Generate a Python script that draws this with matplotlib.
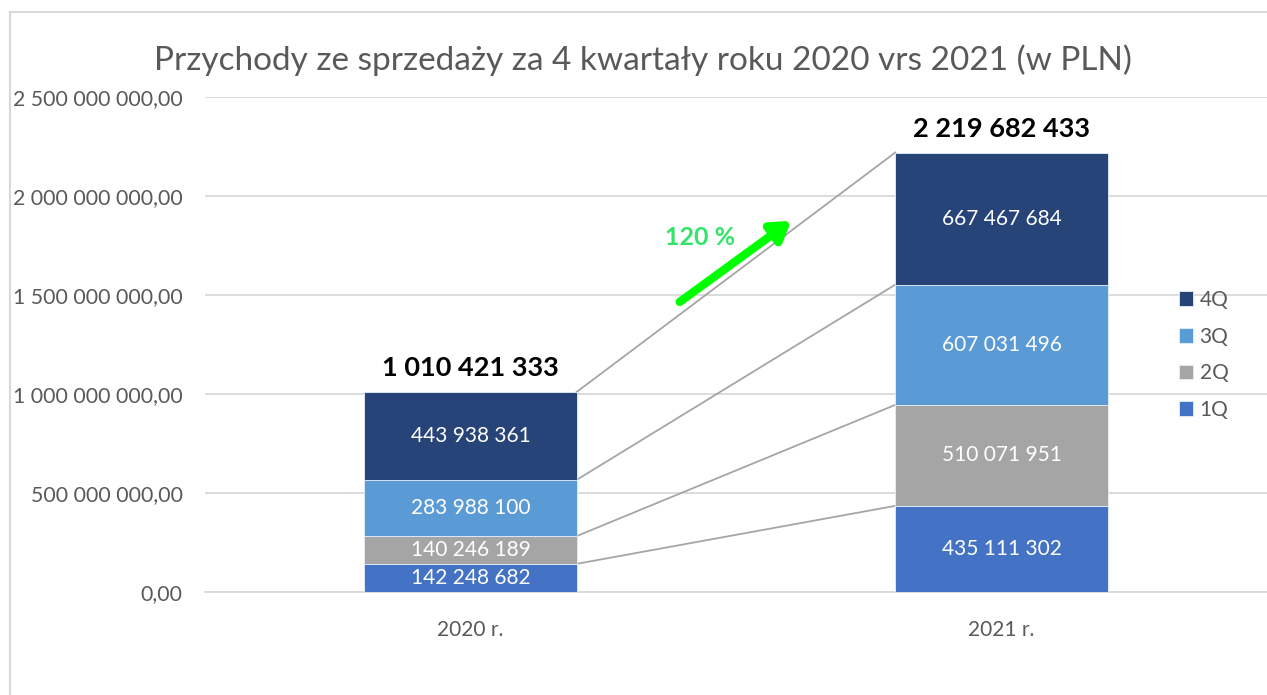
import matplotlib.pyplot as plt
from matplotlib.patches import Rectangle
import numpy as np

plt.rcParams['font.family'] = ['Lato', 'DejaVu Sans']

years = ['2020 r.', '2021 r.']
quarters = ['1Q', '2Q', '3Q', '4Q']
q1 = [142248682, 435111302]
q2 = [140246189, 510071951]
q3 = [283988100, 607031496]
q4 = [443938361, 667467684]
totals = [1010421333, 2219682433]
growth_label = '120 %'

colors = ['#4472C4', '#A5A5A5', '#5B9BD5', '#264478']
grey_text = '#595959'


def fmt_space(v):
    '''
    Thousands separated by spaces, Polish style
    '''
    return '{:,}'.format(int(round(v))).replace(',', ' ')


def fmt_axis(v, pos=None):
    return fmt_space(v) + ',00'


fig = plt.figure(figsize=(12.67, 6.95), dpi=100)
ax = fig.add_axes([205/1267, 1 - 592/695, 1 - 205/1267, (592 - 97)/695])

# outer chart border
fig.patches.append(Rectangle((10/1267, -0.1), 1.1, 1 - 12/695 + 0.1,
                             transform=fig.transFigure, fill=False,
                             edgecolor='#D9D9D9', linewidth=1.5))

x = np.arange(len(years))
width = 0.4
series = [q1, q2, q3, q4]
bottom = np.zeros(len(years))
tops = []
for vals, col, name in zip(series, colors, quarters):
    vals = np.array(vals, dtype=float)
    ax.bar(x, vals, width, bottom=bottom, color=col, label=name,
           edgecolor='#E8EEF7', linewidth=0.6, zorder=3)
    for xi, v, b in zip(x, vals, bottom):
        ax.text(xi, b + v / 2, fmt_space(v), ha='center', va='center',
                color='white', fontsize=15, zorder=4)
    bottom = bottom + vals
    tops.append(bottom.copy())

# series lines between the bars
for t in tops:
    ax.plot([x[0] + width / 2, x[1] - width / 2], [t[0], t[1]],
            color='#A5A5A5', linewidth=1.3, zorder=2)

# totals above the bars
for xi, b, tot in zip(x, bottom, totals):
    ax.text(xi, b + 58e6, fmt_space(tot), ha='center', va='bottom',
            fontsize=19.5, fontweight='bold', color='black')

# growth arrow
ax.annotate('', xy=(0.604, 1.875e9), xytext=(0.394, 1.465e9),
            arrowprops=dict(arrowstyle='-|>,head_width=0.7,head_length=1.1',
                            color='#00FF00', lw=6, shrinkA=0, shrinkB=0),
            zorder=5)
ax.text(0.432, 1.79e9, growth_label, ha='center', va='center',
        fontsize=18, fontweight='bold', color='#33E36A')

ax.set_xlim(-0.5, 1.5)
ax.set_ylim(0, 2.5e9)
ax.set_yticks(np.arange(0, 2.5e9 + 1, 5e8))
ax.yaxis.set_major_formatter(plt.FuncFormatter(fmt_axis))
ax.set_xticks(x)
ax.set_xticklabels(years)
ax.tick_params(axis='both', length=0, colors=grey_text)
ax.tick_params(axis='y', pad=16, labelsize=15.3)
ax.tick_params(axis='x', pad=20, labelsize=15)
ax.grid(axis='y', color='#D9D9D9', linewidth=1.3, zorder=0)
ax.set_axisbelow(True)
for s in ['top', 'right', 'left']:
    ax.spines[s].set_visible(False)
ax.spines['bottom'].set_color('#D9D9D9')
ax.spines['bottom'].set_linewidth(1.3)

fig.text(643/1267, 1 - 60/695, 'Przychody ze sprzedaży za 4 kwartały roku 2020 vrs 2021 (w PLN)',
         ha='center', va='center', fontsize=24, color=grey_text)

handles, labels = ax.get_legend_handles_labels()
ax.legend(handles[::-1], labels[::-1], loc='center left',
          bbox_to_anchor=(1160/1267, 1 - 355/695), bbox_transform=fig.transFigure,
          frameon=False, fontsize=15, labelcolor=grey_text,
          handlelength=0.7, handleheight=0.7, handletextpad=0.3,
          labelspacing=0.8)

fig.savefig('out.png', dpi=100)
